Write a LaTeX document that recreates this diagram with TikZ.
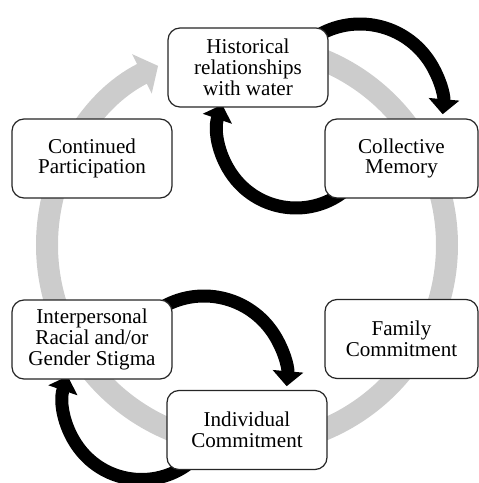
\documentclass[tikz,border=0pt]{standalone}
\usepackage{fontspec}
\setmainfont{Liberation Serif}
\usetikzlibrary{arrows.meta, calc, backgrounds}
\definecolor{ringgray}{RGB}{204,204,204}

\begin{document}
\begin{tikzpicture}[
        stage/.style={draw=black!85, line width=0.7pt, rounded corners=0.24cm, fill=white, align=center,
                      minimum width=3.2cm, minimum height=1.58cm, inner sep=1pt, font=\fontsize{12}{11.8}\selectfont},
        narrow/.style={minimum width=3.06cm},
        ringarrow/.style={draw=ringgray, line width=0.44cm, -{Triangle[width=0.86cm, length=0.36cm]}},
        backarrow/.style={draw=black, line width=0.26cm, -{Triangle[width=0.6cm, length=0.3cm]}}
    ]
        \useasboundingbox (0,0) rectangle (9.58,9.66);
        \clip (0,0) rectangle (9.58,9.66);
        \draw (4.96,8.31) node[stage] (hist) {Historical\\relationships\\with water};
        \draw (8.03,6.49) node[stage, narrow] (coll) {Collective\\Memory};
        \draw (8.03,2.88) node[stage, narrow] (family) {Family\\Commitment};
        \draw (4.94,1.06) node[stage] (indiv) {Individual\\Commitment};
        \draw (1.84,2.87) node[stage] (interp) {Interpersonal\\Racial and/or\\Gender Stigma};
        \draw (1.84,6.49) node[stage] (cont) {Continued\\Participation};
        \coordinate (ring) at (4.94,4.76);
        \begin{pgfonlayer}{background}
        \draw[ringarrow] (ring) ++(90:4) arc[start angle=90, end angle=-243.6, radius=4];
        \draw[backarrow] ($(hist)+(2.24,-0.79)$) ++(125:1.66) arc[start angle=125, end angle=-5, radius=1.66];
        \draw[backarrow] ($(coll)+(-2.11,0.57)$) ++(-50:1.56) arc[start angle=-50, end angle=-199, radius=1.56];
        \draw[backarrow] ($(interp)+(2.24,-0.79)$) ++(125:1.66) arc[start angle=125, end angle=-5, radius=1.66];
        \draw[backarrow] ($(indiv)+(-2.11,0.57)$) ++(-50:1.56) arc[start angle=-50, end angle=-199, radius=1.56];
        \end{pgfonlayer}
\end{tikzpicture}
\end{document}
